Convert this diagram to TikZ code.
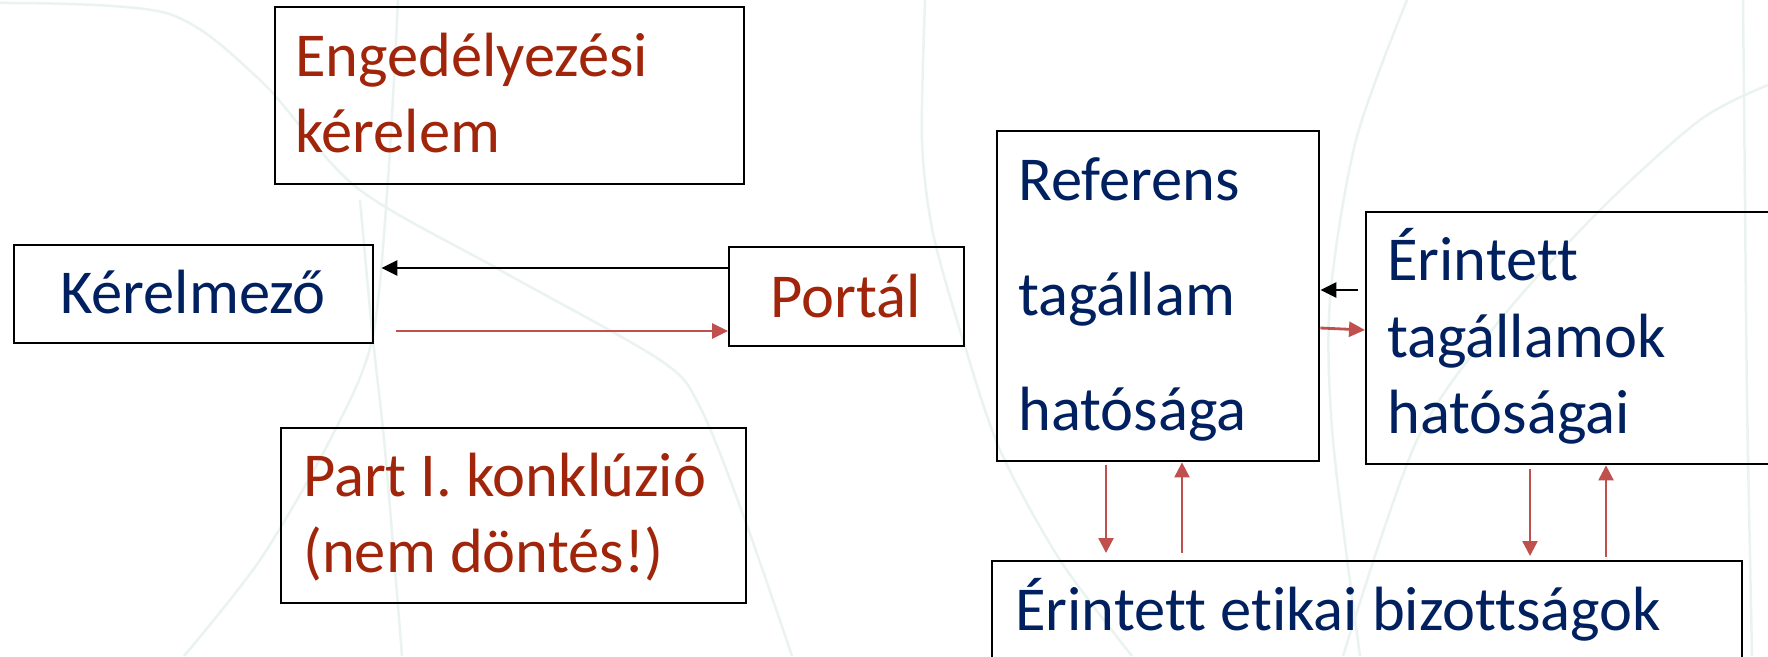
\documentclass[tikz,border=0pt]{standalone}
\usepackage{fontspec}
\setmainfont{Carlito}[Ligatures={NoCommon}]
\usetikzlibrary{arrows.meta}
\definecolor{navy}{HTML}{002060}
\definecolor{dred}{HTML}{A0250A}
\definecolor{ared}{HTML}{C0504D}
\definecolor{wm}{HTML}{EBF3F1}
\begin{document}
\begin{tikzpicture}[x=1pt,y=-1pt,
  box/.style={draw=black, line width=2.4pt, inner sep=0pt, anchor=north west},
  txt/.style={font=\fontsize{62.5}{75}\selectfont, inner sep=0pt, anchor=base west},
  blk/.style={draw=black, line width=2.8pt, -{Triangle[length=16pt,width=15pt]}},
  rarr/.style={draw=ared, line width=2.8pt, -{Triangle[length=16pt,width=15pt]}},
  rarrv/.style={draw=ared, line width=2.4pt, -{Triangle[length=15pt,width=15pt]}},
  wmline/.style={draw=wm, line width=2.5pt}]

\useasboundingbox[fill=white] (0,0) rectangle (1768,656);
\clip (0,0) rectangle (1768,656);

% faint background arcs
\draw[wmline] plot[smooth] coordinates {(0,3) (166,13) (260,80) (356,187) (500,270) (660,360) (700,407) (745,520) (792,656)};
\draw[wmline] plot[smooth] coordinates {(398,0) (388,180) (372,340) (330,440) (260,560) (184,656)};
\draw[wmline] plot[smooth] coordinates {(360,200) (372,330) (385,450) (402,656)};
\draw[wmline] plot[smooth] coordinates {(925,0) (922,140) (933,233) (963,340) (1000,450) (1060,560) (1132,656)};
\draw[wmline] plot[smooth] coordinates {(1407,0) (1356,140) (1330,300) (1333,440) (1360,656)};
\draw[wmline] plot[smooth] coordinates {(1768,85) (1700,120) (1600,210) (1500,320) (1417,440) (1343,656)};
\draw[wmline] plot[smooth] coordinates {(1743,0) (1745,200) (1747,400) (1752,656)};

% boxes
\node[box, minimum width=469pt, minimum height=177pt] (eng) at (274,6) {};
\node[box, minimum width=359pt, minimum height=98pt] (kerel) at (13,244) {};
\node[box, minimum width=235pt, minimum height=99pt] (portal) at (728,246) {};
\node[box, minimum width=465pt, minimum height=175pt] (part) at (280,427) {};
\node[box, minimum width=322pt, minimum height=330pt] (ref) at (996,130) {};
\node[box, minimum width=450pt, minimum height=252pt] (erin) at (1365,211) {};
\node[box, minimum width=750pt, minimum height=150pt] (etik) at (991,560) {};

% texts
\node[txt, text=dred] (eng1) at (295,76) {Engedélyezési};
\node[txt, text=dred] (eng2) at (295,152) {kérelem};
\node[txt, text=navy, anchor=base] (kerelT) at (193,313) {Kérelmező};
\node[txt, text=dred, anchor=base] (portalT) at (846,317) {Portál};
\node[txt, text=dred] (part1) at (303,496) {Part I. konklúzió};
\node[txt, text=dred] (part2) at (303,572) {(nem döntés!)};
\node[txt, text=navy] (ref1) at (1018,200) {Referens};
\node[txt, text=navy] (ref2) at (1018,315) {tagállam};
\node[txt, text=navy] (ref3) at (1018,430) {hatósága};
\node[txt, text=navy] (erin1) at (1387,280) {Érintett};
\node[txt, text=navy] (erin2) at (1387,357) {tagállamok};
\node[txt, text=navy] (erin3) at (1387,433) {hatóságai};
\node[txt, text=navy] (etikT) at (1015,630) {Érintett etikai bizottságok};

% connectors
\draw[blk, shorten >=7pt] (portal.west |- 0,268) -- (kerel.east |- 0,268);
\draw[rarr, shorten <=22pt] (kerel.east |- 0,331) -- (portal.west |- 0,331);
\draw[blk, shorten <=7pt] (erin.west |- 0,290) -- (ref.east |- 0,290);
\draw[rarr] (ref.east |- 0,328) -- (erin.west |- 0,330);
\draw[rarrv, shorten <=3pt, shorten >=7pt] (ref.south -| 1106,0) -- (etik.north -| 1106,0);
\draw[rarrv, shorten <=7pt] (etik.north -| 1182,0) -- (ref.south -| 1182,0);
\draw[rarrv, shorten <=4pt, shorten >=4pt] (erin.south -| 1530,0) -- (etik.north -| 1530,0);
\draw[rarrv, shorten <=3pt] (etik.north -| 1606,0) -- (erin.south -| 1606,0);
\end{tikzpicture}
\end{document}
